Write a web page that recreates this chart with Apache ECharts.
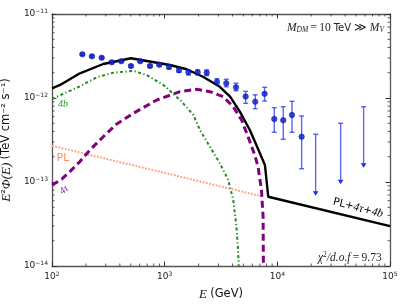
<!DOCTYPE html>
<html><head><meta charset="utf-8">
<script src="https://cdn.jsdelivr.net/npm/echarts@6/dist/echarts.min.js"></script>
<style>html,body{margin:0;padding:0;background:#fff}#c{width:407px;height:305px}</style>
</head><body><div id="c"></div>
<script>
// ---- data ----
const pointE    = [186,226,276,339,412,502,607,741,896,1092,1340,1626,1963,2360,2912,3522,4295,5233,6368,7710,9394,11280,13490,16430];
const pointF    = [3.31e-12,3.13e-12,3.02e-12,2.66e-12,2.74e-12,2.40e-12,2.74e-12,2.40e-12,2.49e-12,2.34e-12,2.14e-12,2.02e-12,2.02e-12,2.00e-12,1.56e-12,1.50e-12,1.34e-12,1.04e-12,9.03e-13,1.12e-12,5.62e-13,5.43e-13,6.28e-13,3.46e-13];
const pointHigh = [3.40e-12,3.22e-12,3.10e-12,2.74e-12,2.82e-12,2.48e-12,2.82e-12,2.48e-12,2.58e-12,2.46e-12,2.26e-12,2.16e-12,2.16e-12,2.16e-12,1.70e-12,1.67e-12,1.50e-12,1.20e-12,1.09e-12,1.34e-12,7.67e-13,7.87e-13,9.14e-13,6.11e-13];
const pointLow  = [3.22e-12,3.04e-12,2.94e-12,2.58e-12,2.66e-12,2.32e-12,2.66e-12,2.32e-12,2.40e-12,2.22e-12,2.02e-12,1.88e-12,1.88e-12,1.85e-12,1.44e-12,1.36e-12,1.22e-12,8.65e-13,7.46e-13,9.21e-13,3.91e-13,3.22e-13,3.91e-13,1.44e-13];

const ulE      = [21880, 36460, 58300];
const ulTop    = [3.70e-13, 5.00e-13, 7.87e-13];
const ulBottom = [6.87e-14, 9.40e-14, 1.48e-13];

const plE = [100, 7300];
const plF = [2.70e-13, 6.75e-14];

const tauE = [100,122,144,177,217,285,375,528,851,1370,1920,2520,3300,4062,4815,5500,6300,6745,7230,7475,7520];
const tauF = [9.20e-14,1.08e-13,1.33e-13,1.75e-13,2.40e-13,3.46e-13,4.90e-13,6.58e-13,9.47e-13,1.19e-12,1.27e-12,1.19e-12,1.04e-12,7.87e-13,5.47e-13,3.46e-13,2.09e-13,1.52e-13,8.03e-14,3.86e-14,1.0e-14];

const bbE = [100,126,177,249,350,528,692,974,1370,1800,2054,2520,3088,3664,4062,4334,4480,4544];
const bbF = [9.73e-13,1.12e-12,1.38e-12,1.76e-12,2.00e-12,2.10e-12,1.88e-12,1.43e-12,9.47e-13,6.28e-13,4.16e-13,2.63e-13,1.67e-13,1.06e-13,6.11e-14,2.94e-14,1.55e-14,1.0e-14];

const totE = [100,118,177,285,502,907,1112,1568,2188,3088,3808,4650,5700,6745,7762,8303,100000];
const totF = [1.30e-12,1.43e-12,1.97e-12,2.54e-12,2.97e-12,2.59e-12,2.47e-12,2.20e-12,1.79e-12,1.36e-12,1.04e-12,6.87e-13,4.16e-13,2.47e-13,1.59e-13,6.68e-14,2.99e-14];

const xMin = 1e2, xMax = 1e5, yMin = 1e-14, yMax = 1e-11;

// ---- helpers ----
const pairs = (a, b) => a.map((v, i) => [v, b[i]]);
const xMinor = [], yMinor = [];
for (let d = 2; d < 5; d++) for (let k = 2; k <= 9; k++) xMinor.push([k * Math.pow(10, d), 1e-12]);
for (let d = -14; d < -11; d++) for (let k = 2; k <= 9; k++) yMinor.push([1000, k * Math.pow(10, d)]);

const errColor = 'rgba(25,45,240,0.72)';
const tickColor = '#333';

function tickLabel(v) {
  const e = Math.round(Math.log10(v));
  return '{b|10}{s|' + (e < 0 ? '\u2212' + (-e) : e) + '}';
}
const tickRich = {
  b: { fontSize: 9, fontFamily: 'DejaVu Sans', color: '#222' },
  s: { fontSize: 6, fontFamily: 'DejaVu Sans', color: '#222', padding: [0, 0, 6, 0] }
};

function makeAxis(pos, isX, showLabel) {
  return {
    type: 'log', logBase: 10, position: pos,
    min: isX ? xMin : yMin, max: isX ? xMax : yMax,
    axisLine: { show: true, lineStyle: { color: '#555', width: 1.3 } },
    axisTick: { show: true, inside: true, length: 4.5, lineStyle: { color: tickColor, width: 1 } },
    splitLine: { show: false },
    axisLabel: showLabel ? { formatter: tickLabel, rich: tickRich, margin: isX ? 5 : 4 } : { show: false }
  };
}

const xAxisBottom = makeAxis('bottom', true, true);
xAxisBottom.name = '{i|E} {n|(GeV)}';
xAxisBottom.nameLocation = 'middle';
xAxisBottom.nameGap = 22;
xAxisBottom.nameTextStyle = { rich: {
  i: { fontFamily: 'Liberation Serif', fontStyle: 'italic', fontSize: 13, color: '#111' },
  n: { fontFamily: 'DejaVu Sans', fontSize: 11.5, color: '#111' } } };
const xAxisTop = makeAxis('top', true, false);

const yAxisLeft = makeAxis('left', false, true);
yAxisLeft.name = '{i|E}{n|\u00b2}{i|\u03a6(E)} {n|(TeV cm\u207b\u00b2 s\u207b\u00b9)}';
yAxisLeft.nameLocation = 'middle';
yAxisLeft.nameRotate = 90;
yAxisLeft.nameGap = 39;
yAxisLeft.nameTextStyle = { rich: {
  i: { fontFamily: 'Liberation Serif', fontStyle: 'italic', fontSize: 13, color: '#111' },
  n: { fontFamily: 'DejaVu Sans', fontSize: 11.5, color: '#111' } } };
const yAxisRight = makeAxis('right', false, false);

const option = {
  animation: false,
  backgroundColor: '#fff',
  grid: { left: 52, right: 17, top: 14, bottom: 39, containLabel: false, outerBoundsMode: 'none' },
  xAxis: [xAxisBottom, xAxisTop],
  yAxis: [yAxisLeft, yAxisRight],
  series: [
    { type: 'custom', silent: true, data: xMinor, encode: { x: 0, y: 1 }, z: 1,
      renderItem: (p, api) => {
        const c = api.coord([api.value(0), api.value(1)]);
        const cs = p.coordSys; const b = cs.y + cs.height, t = cs.y;
        const st = { stroke: tickColor, lineWidth: 0.8 };
        return { type: 'group', children: [
          { type: 'line', shape: { x1: c[0], y1: b, x2: c[0], y2: b - 2.5 }, style: st },
          { type: 'line', shape: { x1: c[0], y1: t, x2: c[0], y2: t + 2.5 }, style: st } ] };
      } },
    { type: 'custom', silent: true, data: yMinor, encode: { x: 0, y: 1 }, z: 1,
      renderItem: (p, api) => {
        const c = api.coord([api.value(0), api.value(1)]);
        const cs = p.coordSys; const l = cs.x, r = cs.x + cs.width;
        const st = { stroke: tickColor, lineWidth: 0.8 };
        return { type: 'group', children: [
          { type: 'line', shape: { x1: l, y1: c[1], x2: l + 2.5, y2: c[1] }, style: st },
          { type: 'line', shape: { x1: r, y1: c[1], x2: r - 2.5, y2: c[1] }, style: st } ] };
      } },
    { name: 'PL', type: 'line', data: pairs(plE, plF), symbol: 'none', z: 2,
      lineStyle: { color: '#ffa07a', width: 2, type: [1.8, 1.5] } },
    { name: '4tau', type: 'line', data: pairs(tauE, tauF), symbol: 'none', z: 2,
      lineStyle: { color: '#800080', width: 3, type: [7, 4] } },
    { name: '4b', type: 'line', data: pairs(bbE, bbF), symbol: 'none', z: 2,
      lineStyle: { color: '#1a8a1a', width: 2, type: [3, 2.5, 1.2, 2.5] } },
    { name: 'total', type: 'line', data: pairs(totE, totF), symbol: 'none', z: 3,
      lineStyle: { color: '#000', width: 2.4 } },
    { type: 'custom', data: pointE.map((e, i) => [e, pointLow[i], pointHigh[i]]), encode: { x: 0, y: [1, 2] }, z: 4,
      renderItem: (p, api) => {
        const x = api.value(0);
        const a = api.coord([x, api.value(1)]), b = api.coord([x, api.value(2)]);
        const st = { stroke: errColor, lineWidth: 1.4 }; const w = 2.5;
        return { type: 'group', children: [
          { type: 'line', shape: { x1: a[0], y1: a[1], x2: b[0], y2: b[1] }, style: st },
          { type: 'line', shape: { x1: a[0] - w, y1: a[1], x2: a[0] + w, y2: a[1] }, style: st },
          { type: 'line', shape: { x1: b[0] - w, y1: b[1], x2: b[0] + w, y2: b[1] }, style: st } ] };
      } },
    { type: 'custom', data: ulE.map((e, i) => [e, ulBottom[i], ulTop[i]]), encode: { x: 0, y: [1, 2] }, z: 4,
      renderItem: (p, api) => {
        const x = api.value(0);
        const a = api.coord([x, api.value(1)]), b = api.coord([x, api.value(2)]);
        const st = { stroke: errColor, lineWidth: 1.4 }; const w = 2.5;
        return { type: 'group', children: [
          { type: 'line', shape: { x1: a[0], y1: a[1] - 3, x2: b[0], y2: b[1] }, style: st },
          { type: 'line', shape: { x1: b[0] - w, y1: b[1], x2: b[0] + w, y2: b[1] }, style: st },
          { type: 'polygon', shape: { points: [[a[0] - 2.8, a[1] - 4.5], [a[0] + 2.8, a[1] - 4.5], [a[0], a[1]]] },
            style: { fill: '#1a2ef0' } } ] };
      } },
    { name: 'data', type: 'scatter', data: pairs(pointE, pointF), symbol: 'circle', symbolSize: 5.5, z: 5,
      itemStyle: { color: '#0a1ad8', borderColor: '#00107a', borderWidth: 0.6 } }
  ],
  graphic: [
    { type: 'text', left: 287, top: 22, style: { text: '{i|M}{sub|DM}{n|\u2009=\u200910 }{s|TeV}{n| \u226b }{i|M}{sub|V}',
      rich: {
        i: { fontFamily: 'Liberation Serif', fontStyle: 'italic', fontSize: 11.5, fill: '#222' },
        sub: { fontFamily: 'Liberation Serif', fontStyle: 'italic', fontSize: 7.5, fill: '#222', padding: [5, 0, 0, 0] },
        n: { fontFamily: 'Liberation Serif', fontSize: 11.5, fill: '#222' },
        s: { fontFamily: 'DejaVu Sans', fontSize: 10, fill: '#222' } } } },
    { type: 'text', left: 318, top: 251, style: { text: '{i|\u03c7}{sup|2}{i|/d.o.f}{n|\u2009=\u20099.73}',
      rich: {
        i: { fontFamily: 'Liberation Serif', fontStyle: 'italic', fontSize: 11.5, fill: '#222' },
        sup: { fontFamily: 'Liberation Serif', fontSize: 7.5, fill: '#222', padding: [0, 0, 6, 0] },
        n: { fontFamily: 'Liberation Serif', fontSize: 11.5, fill: '#222' } } } },
    { type: 'text', x: 358, y: 208, rotation: -0.25, style: { text: '{s|PL+}{i|4\u03c4}{s|+}{i|4b}', align: 'center', verticalAlign: 'middle',
      rich: {
        s: { fontFamily: 'DejaVu Sans', fontSize: 10.5, fill: '#000' },
        i: { fontFamily: 'Liberation Serif', fontStyle: 'italic', fontSize: 11.5, fill: '#000' } } } },
    { type: 'text', x: 63, y: 104, style: { text: '4b', align: 'center', verticalAlign: 'middle',
      fontFamily: 'Liberation Serif', fontStyle: 'italic', fontSize: 10, fill: '#2a9a2a' } },
    { type: 'text', x: 63, y: 158, style: { text: 'PL', align: 'center', verticalAlign: 'middle',
      fontFamily: 'DejaVu Sans', fontSize: 11, fill: '#ff8c5a' } },
    { type: 'text', x: 64, y: 190, rotation: 0.7, style: { text: '4\u03c4', align: 'center', verticalAlign: 'middle',
      fontFamily: 'Liberation Serif', fontStyle: 'italic', fontSize: 10, fill: '#8a1a8a' } }
  ]
};

const chart = echarts.init(document.getElementById('c'), null, { renderer: 'canvas' });
chart.setOption(option);
</script>
</body></html>
